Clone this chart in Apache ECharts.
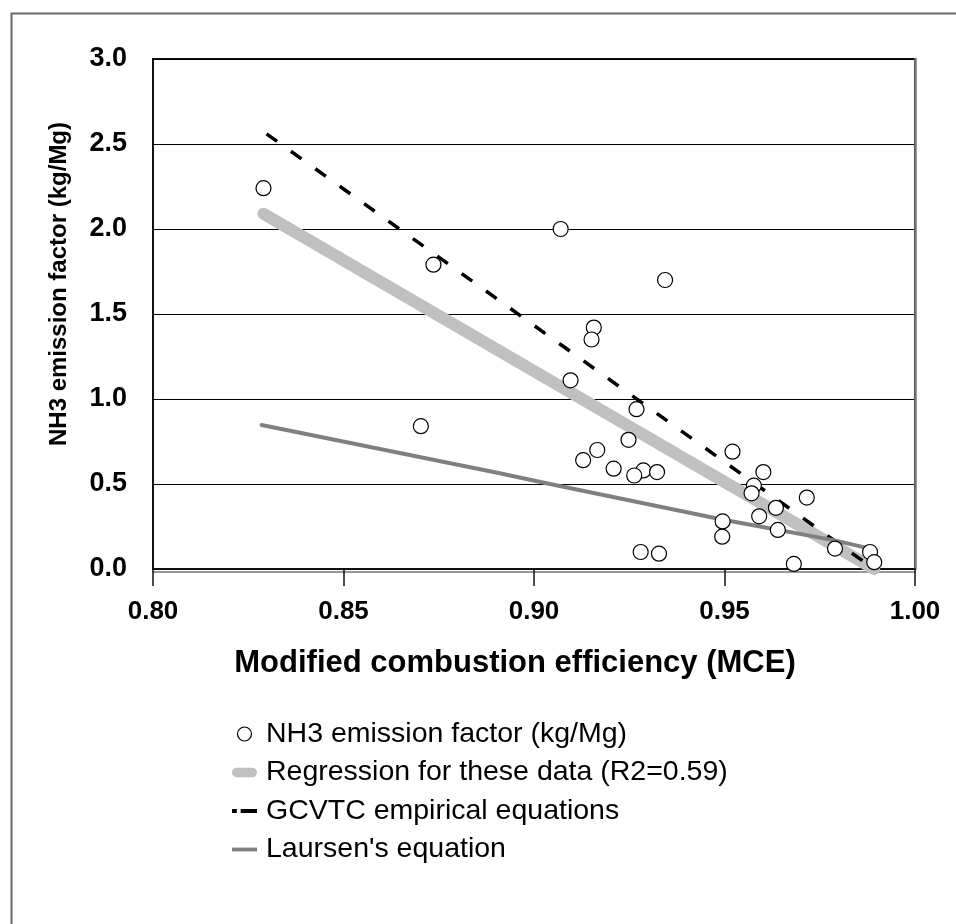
<!DOCTYPE html>
<html>
<head>
<meta charset="utf-8">
<script src="https://cdn.jsdelivr.net/npm/echarts@6/dist/echarts.min.js"></script>
<style>
html,body{margin:0;padding:0;background:#fff;}
#chart{width:956px;height:924px;}
</style>
</head>
<body>
<div id="chart"></div>
<script>
// Observed data: modified combustion efficiency vs NH3 emission factor
var mceValues = [0.829, 0.8736, 0.8703, 0.907, 0.9344, 0.9157, 0.9151, 0.9096, 0.9269, 0.9248,
  0.9166, 0.9129, 0.9209, 0.9287, 0.9263, 0.9323, 0.9521, 0.9602, 0.9577, 0.9571,
  0.9716, 0.9635, 0.9591, 0.9495, 0.9640, 0.9494, 0.9790, 0.9882, 0.9893, 0.9682,
  0.9280, 0.9328];
var nh3Values = [2.24, 1.79, 0.84, 2.00, 1.70, 1.42, 1.35, 1.11, 0.94, 0.76,
  0.70, 0.64, 0.59, 0.58, 0.55, 0.57, 0.69, 0.57, 0.49, 0.445,
  0.42, 0.36, 0.31, 0.28, 0.23, 0.19, 0.12, 0.10, 0.04, 0.03,
  0.10, 0.09];

// Regression line for these data
var regX = [0.829, 0.9893];
var regY = [2.09, 0.0];
// GCVTC empirical equations
var gcvtcX = [0.8298, 0.988];
var gcvtcY = [2.56, 0.02];
// Laursen's equation
var laursenX = [0.8285, 0.891, 0.9042, 0.9497, 0.9786, 0.9882];
var laursenY = [0.847, 0.563, 0.50, 0.29, 0.17, 0.12];

var xTicks = [0.80, 0.85, 0.90, 0.95, 1.00];
var yTicks = [0.0, 0.5, 1.0, 1.5, 2.0, 2.5, 3.0];

var seriesNames = ['NH3 emission factor (kg/Mg)', 'Regression for these data (R2=0.59)',
  'GCVTC empirical equations', "Laursen's equation"];
var xTitle = 'Modified combustion efficiency (MCE)';
var yTitle = 'NH3 emission factor (kg/Mg)';

function zip(a, b) { return a.map(function (v, i) { return [v, b[i]]; }); }

var FONT = '"Liberation Sans", Arial, sans-serif';
var chart = echarts.init(document.getElementById('chart'), null, {renderer: 'canvas'});

var option = {
  animation: false,
  backgroundColor: '#ffffff',
  textStyle: {fontFamily: FONT},
  graphic: [{
    type: 'rect', left: 9, top: 11, z: -10,
    shape: {x: 0, y: 0, width: 1000, height: 1000},
    style: {fill: 'none', stroke: '#6a6a6a', lineWidth: 2}
  }],
  grid: {
    left: 153, top: 59, right: 41, bottom: 355,
    show: true, borderColor: '#111', borderWidth: 2, backgroundColor: 'transparent'
  },
  xAxis: [{
    type: 'value', min: xTicks[0], max: xTicks[xTicks.length - 1], interval: 0.05,
    position: 'bottom',
    name: xTitle, nameLocation: 'middle', nameGap: 79,
    nameTextStyle: {fontFamily: FONT, fontWeight: 'bold', fontSize: 31, color: '#000',
      padding: [0, 38, 0, 0]},
    axisLine: {show: true, onZero: false, lineStyle: {color: '#111', width: 1.5}},
    axisTick: {show: true, inside: false, length: 17, lineStyle: {color: '#111', width: 1.5}},
    axisLabel: {margin: 30, fontFamily: FONT, fontWeight: 'bold', fontSize: 26, color: '#000',
      formatter: function (v) { return v.toFixed(2); }},
    splitLine: {show: false}
  }, {
    type: 'value', min: xTicks[0], max: xTicks[xTicks.length - 1], interval: 0.05,
    position: 'bottom', offset: 3,
    axisLine: {show: true, onZero: false, lineStyle: {color: '#777', width: 1.5}},
    axisTick: {show: false}, axisLabel: {show: false}, splitLine: {show: false}
  }],
  yAxis: [{
    type: 'value', min: yTicks[0], max: yTicks[yTicks.length - 1], interval: 0.5,
    position: 'left',
    name: yTitle, nameLocation: 'middle', nameGap: 82, nameRotate: 90,
    nameTextStyle: {fontFamily: FONT, fontWeight: 'bold', fontSize: 24, color: '#000',
      padding: [0, 0, 0, 60]},
    axisLine: {show: true, onZero: false, lineStyle: {color: '#111', width: 2}},
    axisTick: {show: false},
    axisLabel: {margin: 26, fontFamily: FONT, fontWeight: 'bold', fontSize: 27, color: '#000',
      formatter: function (v) { return v.toFixed(1); }},
    splitLine: {show: true, lineStyle: {color: '#000', width: 1.2}}
  }, {
    type: 'value', min: yTicks[0], max: yTicks[yTicks.length - 1], interval: 0.5,
    position: 'right',
    axisLine: {show: true, onZero: false, lineStyle: {color: '#777', width: 2.5}},
    axisTick: {show: false}, axisLabel: {show: false}, splitLine: {show: false}
  }],
  legend: {
    orient: 'vertical', left: 227, top: 714,
    itemWidth: 25, itemHeight: 14, itemGap: 8.5,
    textStyle: {fontFamily: FONT, fontSize: 28.5, lineHeight: 30, color: '#000', padding: [0, 0, 0, 4]},
    data: [
      {name: seriesNames[0], icon: 'circle',
        itemStyle: {color: '#fff', borderColor: '#000', borderWidth: 1.2}},
      {name: seriesNames[1], icon: 'path://M5,0h16a5,5 0 0 1 0,10h-16a5,5 0 0 1 0,-10z',
        itemStyle: {color: '#c0c0c0', borderWidth: 0}},
      {name: seriesNames[2], icon: 'path://M0,0h5v4h-5z M9,0h17v4h-17z',
        itemStyle: {color: '#000', borderWidth: 0}},
      {name: seriesNames[3], icon: 'path://M0,0h26v4h-26z',
        itemStyle: {color: '#808080', borderWidth: 0}}
    ]
  },
  series: [{
    name: seriesNames[1], type: 'line', data: zip(regX, regY),
    symbol: 'none', z: 2,
    lineStyle: {color: '#c0c0c0', width: 12, cap: 'round'},
    itemStyle: {color: '#c0c0c0'}
  }, {
    name: seriesNames[2], type: 'line', data: zip(gcvtcX, gcvtcY),
    symbol: 'none', z: 3,
    lineStyle: {color: '#000', width: 3.5, type: [13, 17]},
    itemStyle: {color: '#000'}
  }, {
    name: seriesNames[3], type: 'line', data: zip(laursenX, laursenY),
    symbol: 'none', z: 3,
    lineStyle: {color: '#808080', width: 4, cap: 'round'},
    itemStyle: {color: '#808080'}
  }, {
    name: seriesNames[0], type: 'scatter', data: zip(mceValues, nh3Values),
    symbol: 'circle', symbolSize: 15, z: 5,
    itemStyle: {color: '#fff', borderColor: '#000', borderWidth: 1.2, opacity: 1}
  }]
};
chart.setOption(option);
</script>
</body>
</html>
